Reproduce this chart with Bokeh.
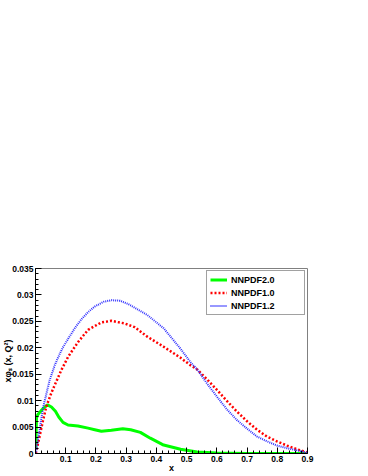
import numpy as np
from bokeh.plotting import figure
from bokeh.models import FixedTicker, Legend, LegendItem, Range1d
from bokeh.embed import file_html
from bokeh.resources import INLINE

# ---- data ----
x_green = [0.001, 0.002, 0.0035, 0.008, 0.0142, 0.025, 0.0396, 0.0528, 0.066, 0.077, 0.091,
           0.1076, 0.1406, 0.174, 0.196, 0.218, 0.251, 0.289, 0.315, 0.347, 0.38, 0.424,
           0.48, 0.535, 0.6, 0.7, 0.8, 0.9]
y_green = [0.0008, 0.0040, 0.0068, 0.0074, 0.0078, 0.0085, 0.0092, 0.0088, 0.0080, 0.0069, 0.0059,
           0.0054, 0.0052, 0.0048, 0.0045, 0.0042, 0.0044, 0.0047, 0.0045, 0.0040, 0.0029, 0.0016,
           0.0008, 0.0003, 0.0001, 0.0, 0.0, 0.0]

x_red = [0.001, 0.0033, 0.0142, 0.025, 0.036, 0.0528, 0.064, 0.0857, 0.108, 0.141, 0.174, 0.218,
         0.251, 0.295, 0.328, 0.37, 0.424, 0.48, 0.5125, 0.535, 0.568, 0.601, 0.634, 0.667, 0.70,
         0.733, 0.766, 0.799, 0.832, 0.865, 0.9]
y_red = [0.0, 0.0006, 0.0034, 0.0063, 0.0089, 0.0115, 0.0130, 0.0158, 0.0183, 0.0211, 0.0234, 0.0248,
         0.0251, 0.0246, 0.0239, 0.0221, 0.0202, 0.0181, 0.0167, 0.0159, 0.0140, 0.0120, 0.0099, 0.0079,
         0.0061, 0.0045, 0.0032, 0.0023, 0.0015, 0.0008, 0.0002]

x_blue = [0.001, 0.0033, 0.0142, 0.025, 0.036, 0.047, 0.0637, 0.075, 0.09, 0.108, 0.13, 0.152, 0.175,
          0.196, 0.225, 0.251, 0.28, 0.306, 0.37, 0.424, 0.48, 0.5125, 0.535, 0.568, 0.601, 0.634,
          0.667, 0.70, 0.733, 0.766, 0.799, 0.832, 0.865, 0.9]
y_blue = [0.0, 0.0009, 0.0047, 0.0087, 0.0113, 0.0139, 0.0167, 0.0182, 0.0200, 0.0217, 0.0237, 0.0254,
          0.0268, 0.0278, 0.0287, 0.0290, 0.0289, 0.0283, 0.0262, 0.0237, 0.0198, 0.0173, 0.0159,
          0.0132, 0.0107, 0.0083, 0.0063, 0.0047, 0.0032, 0.0023, 0.0015, 0.0010, 0.0006, 0.0001]

series_names = ["NNPDF2.0", "NNPDF1.0", "NNPDF1.2"]

x_ticks = [0.1, 0.2, 0.3, 0.4, 0.5, 0.6, 0.7, 0.8, 0.9]
x_tick_labels = ["0.1", "0.2", "0.3", "0.4", "0.5", "0.6", "0.7", "0.8", "0.9"]
y_ticks = [0.0, 0.005, 0.01, 0.015, 0.02, 0.025, 0.03, 0.035]
y_tick_labels = ["0", "0.005", "0.01", "0.015", "0.02", "0.025", "0.03", "0.035"]

x_label = "x"
y_label = "xφₛ (x, Q²)"

FONT = "Liberation Sans"

p = figure(frame_width=272, frame_height=185,
           x_range=Range1d(0, 0.9), y_range=Range1d(0, 0.035),
           output_backend="svg", toolbar_location=None,
           min_border_left=35, min_border_right=53, min_border_top=268, min_border_bottom=20)
p.background_fill_color = "white"
p.border_fill_color = "white"
p.outline_line_color = "#808080"
p.outline_line_width = 1
p.xgrid.visible = False
p.ygrid.visible = False

x_minor = [round(v, 3) for v in np.arange(0.0, 0.9001, 0.02)]
y_minor = [round(v, 4) for v in np.arange(0.0, 0.03501, 0.001)]

p.xaxis.ticker = FixedTicker(ticks=x_ticks, minor_ticks=x_minor)
p.yaxis.ticker = FixedTicker(ticks=y_ticks, minor_ticks=y_minor)
p.xaxis.major_label_overrides = {t: l for t, l in zip(x_ticks, x_tick_labels)}
p.yaxis.major_label_overrides = {t: l for t, l in zip(y_ticks, y_tick_labels)}

p.xaxis.axis_label = x_label
p.yaxis.axis_label = y_label

for ax in (p.xaxis, p.yaxis):
    ax.axis_line_color = "black"
    ax.axis_line_width = 1
    ax.major_tick_in = 6
    ax.major_tick_out = 0
    ax.minor_tick_in = 3
    ax.minor_tick_out = 0
    ax.major_tick_line_color = "black"
    ax.minor_tick_line_color = "black"
    ax.major_label_text_font = FONT
    ax.major_label_text_font_style = "bold"
    ax.major_label_text_font_size = "8.5px"
    ax.major_label_text_color = "black"
    ax.major_label_standoff = 2
    ax.axis_label_text_font = FONT
    ax.axis_label_text_font_style = "bold"
    ax.axis_label_text_font_size = "9px"
    ax.axis_label_text_color = "black"

p.yaxis.axis_label_standoff = -4
p.xaxis.axis_label_standoff = -2

r_green = p.line(x_green, y_green, line_color="#00ff00", line_width=3)
r_red = p.line(x_red, y_red, line_color="#ff0000", line_width=2.5, line_dash="2 2")
r_blue = p.line(x_blue, y_blue, line_color="#3030ff", line_width=2, line_dash="1 1")

legend = Legend(items=[LegendItem(label=series_names[0], renderers=[r_green]),
                       LegendItem(label=series_names[1], renderers=[r_red]),
                       LegendItem(label=series_names[2], renderers=[r_blue])],
                location="top_right")
legend.margin = 2
legend.padding = 3
legend.spacing = 2
legend.label_height = 11
legend.glyph_height = 11
legend.glyph_width = 17
legend.label_standoff = 4
legend.label_width = 70
legend.border_line_color = "#444444"
legend.border_line_width = 1
legend.background_fill_color = "white"
legend.background_fill_alpha = 1
legend.label_text_font = FONT
legend.label_text_font_style = "bold"
legend.label_text_font_size = "9px"
legend.label_text_color = "black"
p.add_layout(legend)

open("out.html", "w").write(file_html(p, INLINE))
